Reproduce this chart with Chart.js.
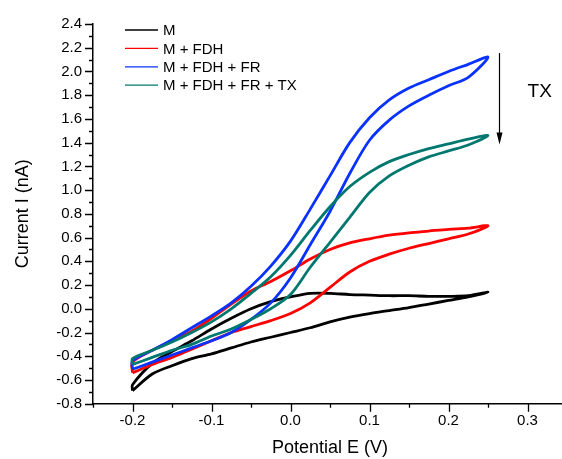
<!DOCTYPE html>
<html>
<head>
<meta charset="utf-8">
<script src="https://cdn.jsdelivr.net/npm/chart.js@4.4.1/dist/chart.umd.min.js"></script>
<style>
  html, body { margin: 0; padding: 0; background: #fff; overflow: hidden; }
  #wrap { width: 562px; height: 459px; overflow: hidden; }
</style>
</head>
<body>
<div id="wrap"><canvas id="cv" width="570" height="459"></canvas></div>
<script>
// potential grid (V), shared by every sweep
const E = [-0.2, -0.175, -0.15, -0.125, -0.1, -0.075, -0.05, -0.025, 0, 0.025,
           0.05, 0.075, 0.1, 0.125, 0.15, 0.175, 0.2, 0.225, 0.25];

// current (nA): lower branch of each loop, then upper branch, on the grid above
const M_LOW  = [-0.69, -0.55, -0.48, -0.42, -0.38, -0.33, -0.28, -0.24, -0.20, -0.16,
                -0.11, -0.07, -0.04, -0.015, 0.01, 0.04, 0.07, 0.10, 0.14];
const M_UP   = [-0.64, -0.46, -0.36, -0.27, -0.17, -0.08, 0.00, 0.06, 0.10, 0.13,
                0.13, 0.12, 0.115, 0.11, 0.11, 0.105, 0.105, 0.11, 0.14];
const FDH_LOW = [-0.54, -0.47, -0.41, -0.34, -0.27, -0.20, -0.15, -0.10, -0.04, 0.05,
                 0.18, 0.31, 0.40, 0.46, 0.51, 0.55, 0.59, 0.63, 0.70];
const FDH_UP  = [-0.45, -0.35, -0.27, -0.19, -0.08, 0.04, 0.15, 0.23, 0.32, 0.42,
                 0.50, 0.555, 0.59, 0.62, 0.64, 0.655, 0.67, 0.68, 0.70];
const FR_LOW  = [-0.51, -0.45, -0.39, -0.33, -0.27, -0.20, -0.09, 0.05, 0.26, 0.54,
                 0.82, 1.14, 1.42, 1.59, 1.71, 1.80, 1.88, 1.95, 2.12];
const FR_UP   = [-0.44, -0.35, -0.26, -0.16, -0.06, 0.05, 0.19, 0.36, 0.57, 0.84,
                 1.12, 1.40, 1.61, 1.76, 1.86, 1.93, 2.00, 2.06, 2.12];
const TX_LOW  = [-0.47, -0.41, -0.35, -0.30, -0.23, -0.17, -0.09, 0.00, 0.12, 0.35,
                 0.56, 0.77, 0.98, 1.12, 1.21, 1.28, 1.33, 1.38, 1.46];
const TX_UP   = [-0.42, -0.35, -0.28, -0.20, -0.11, 0.00, 0.13, 0.27, 0.45, 0.66,
                 0.86, 1.03, 1.15, 1.24, 1.30, 1.35, 1.39, 1.43, 1.47];

const LABELS = ["M", "M + FDH", "M + FDH + FR", "M + FDH + FR + TX"];
const COLORS = ["#000000", "#ff0000", "#0a32ff", "#00786f"];

const X_TICKS = [-0.2, -0.1, 0.0, 0.1, 0.2, 0.3];
const Y_TICKS = [-0.8, -0.6, -0.4, -0.2, 0.0, 0.2, 0.4, 0.6, 0.8, 1.0, 1.2,
                 1.4, 1.6, 1.8, 2.0, 2.2, 2.4];

// sweep out along the lower branch, back along the upper one, close at the start
function loop(low, up) {
  const pts = E.map((e, i) => ({ x: e, y: low[i] }));
  for (let i = E.length - 2; i >= 0; i--) pts.push({ x: E[i], y: up[i] });
  pts.push(pts[0]);
  return pts;
}

const SERIES = [[M_LOW, M_UP], [FDH_LOW, FDH_UP], [FR_LOW, FR_UP], [TX_LOW, TX_UP]];
const FONT = "'Liberation Sans', Arial, sans-serif";

// outward major/minor tick marks on both axes
const tickMarks = {
  id: "tickMarks",
  afterDraw(chart) {
    const { ctx, scales: { x, y }, chartArea: a } = chart;
    ctx.save();
    ctx.strokeStyle = "#000";
    ctx.lineWidth = 1.3;
    ctx.beginPath();
    for (let k = 0; k <= 12; k++) {
      const v = -0.25 + k * 0.05;
      const px = Math.round(x.getPixelForValue(v)) + 0.5;
      const len = k % 2 === 1 ? 8 : 4;
      ctx.moveTo(px, a.bottom);
      ctx.lineTo(px, a.bottom + len);
    }
    for (let k = 0; k <= 32; k++) {
      const v = -0.8 + k * 0.1;
      const py = Math.round(y.getPixelForValue(v)) + 0.5;
      const len = k % 2 === 0 ? 8 : 4;
      ctx.moveTo(a.left, py);
      ctx.lineTo(a.left - len, py);
    }
    ctx.stroke();
    ctx.restore();
  }
};

// legend block in the upper left and the TX arrow on the right
const notes = {
  id: "notes",
  afterDraw(chart) {
    const { ctx, scales: { x, y } } = chart;
    ctx.save();
    ctx.font = "15px " + FONT;
    ctx.textBaseline = "middle";
    ctx.fillStyle = "#000";
    chart.data.datasets.forEach((ds, i) => {
      const ly = 30 + i * 18.4;
      ctx.strokeStyle = ds.borderColor;
      ctx.lineWidth = 1.3;
      ctx.beginPath();
      ctx.moveTo(125, ly);
      ctx.lineTo(158, ly);
      ctx.stroke();
      ctx.fillText(ds.label, 163, ly + 1);
    });

    const ax = Math.round(x.getPixelForValue(0.2645)) + 0.5;
    const top = y.getPixelForValue(2.155);
    const tip = y.getPixelForValue(1.385);
    ctx.strokeStyle = "#000";
    ctx.lineWidth = 1.2;
    ctx.beginPath();
    ctx.moveTo(ax, top);
    ctx.lineTo(ax, tip - 10);
    ctx.stroke();
    ctx.beginPath();
    ctx.moveTo(ax - 3, tip - 12);
    ctx.lineTo(ax + 3, tip - 12);
    ctx.lineTo(ax, tip);
    ctx.closePath();
    ctx.fill();

    ctx.font = "19px " + FONT;
    ctx.textAlign = "center";
    ctx.fillText("TX", x.getPixelForValue(0.3155), y.getPixelForValue(1.83));
    ctx.restore();
  }
};

new Chart(document.getElementById("cv"), {
  type: "scatter",
  data: {
    datasets: SERIES.map(([low, up], i) => ({
      label: LABELS[i],
      data: loop(low, up),
      showLine: true,
      borderColor: COLORS[i],
      backgroundColor: COLORS[i],
      borderWidth: 2.8,
      pointRadius: 0,
      tension: 0.3,
      order: SERIES.length - i,
    })),
  },
  options: {
    responsive: false,
    animation: false,
    events: [],
    layout: { padding: { top: 24, right: 3, left: 0, bottom: 0 } },
    plugins: { legend: { display: false }, tooltip: { enabled: false } },
    scales: {
      x: {
        type: "linear",
        min: -0.25, max: 0.35,
        afterBuildTicks: s => { s.ticks = X_TICKS.map(v => ({ value: v })); },
        afterFit: s => { s.height = 55.3; },
        grid: { display: false, drawTicks: false },
        border: { display: true, color: "#000", width: 1.5 },
        ticks: { color: "#000", padding: 8, maxRotation: 0, autoSkip: false,
                 font: { family: FONT, size: 15 }, callback: v => v.toFixed(1) },
        title: { display: true, text: "Potential E (V)", color: "#000",
                 padding: { top: 0, bottom: 0 }, font: { family: FONT, size: 18 } },
      },
      y: {
        type: "linear",
        min: -0.8, max: 2.4,
        afterBuildTicks: s => { s.ticks = Y_TICKS.map(v => ({ value: v })); },
        afterFit: s => { s.width = 93; },
        grid: { display: false, drawTicks: false },
        border: { display: true, color: "#000", width: 1.5 },
        ticks: { color: "#000", padding: 11, autoSkip: false,
                 font: { family: FONT, size: 15 }, callback: v => v.toFixed(1) },
        title: { display: true, text: "Current I (nA)", color: "#000",
                 padding: { top: 12, bottom: 0 }, font: { family: FONT, size: 18 } },
      },
    },
  },
  plugins: [tickMarks, notes],
});
</script>
</body>
</html>
